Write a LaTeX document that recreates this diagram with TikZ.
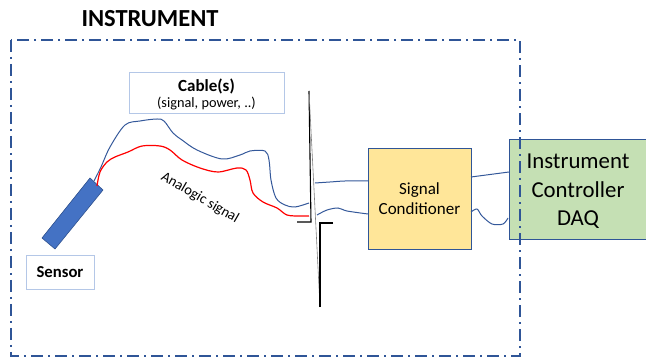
\documentclass[tikz,border=0pt]{standalone}
\usepackage{fontspec}
\setmainfont{Carlito}
\definecolor{frameblue}{HTML}{2F5597}
\definecolor{wireblue}{HTML}{34589A}
\definecolor{sensorfill}{HTML}{4472C4}
\definecolor{sensorline}{HTML}{2F528F}
\definecolor{scfill}{HTML}{FFE699}
\definecolor{ctrlfill}{HTML}{C5E0B4}
\definecolor{lightbox}{HTML}{B4C7E7}
\begin{document}
\begin{tikzpicture}[x=1pt,y=-1pt,
  labelbox/.style={draw=lightbox,line width=0.8pt,fill=white,inner sep=0pt,align=center},
  scbox/.style={draw=frameblue,line width=0.9pt,fill=scfill,inner sep=0pt,align=center,
     minimum width=103pt,minimum height=101pt,font=\fontsize{17}{19.5}\selectfont},
  ctrlbox/.style={draw=frameblue,line width=0.9pt,fill=ctrlfill,inner sep=0pt,align=center,
     minimum width=138pt,minimum height=100pt},
  frame/.style={draw=frameblue,line width=1.8pt,dash pattern=on 12pt off 5pt on 2pt off 5pt},
  wire/.style={draw=wireblue,line width=1pt},
  redwire/.style={draw=red,line width=1.2pt},
  breakline/.style={draw=black,line width=1.1pt},
]
\useasboundingbox (0,0) rectangle (646,358);
\clip (0,0) rectangle (646,358);

% title
\node[font=\bfseries\fontsize{24.5}{27}\selectfont] (title) at (150,19) {INSTRUMENT};

% controller box (under frame)
\node[ctrlbox] (ctrl) at (578,189) {};
\node[font=\fontsize{22.8}{28.5}\selectfont,align=center] (ctrltext) at (578,191.5) {Instrument\\Controller\\DAQ};

% frame
\draw[frame] (11,40) rectangle (520,356);

% cable label box
\node[labelbox,minimum width=155pt,minimum height=41pt] (cablebox) at (206.5,92.5) {};
\node[font=\bfseries\fontsize{17}{19}\selectfont] (cabletitle) at (206.5,86) {Cable(s)};
\node[font=\fontsize{14.3}{16}\selectfont] (cablesub) at (206.5,103.5) {(signal, power, ..)};

% sensor label box
\node[labelbox,minimum width=68pt,minimum height=34pt,font=\bfseries\fontsize{16.7}{18}\selectfont] (sensorbox) at (60,272) {Sensor};

% sensor body
\filldraw[fill=sensorfill,draw=sensorline,line width=0.6pt] (90,178) -- (103,190) -- (55,249) -- (42,238) -- cycle;

% signal conditioner
\node[scbox] (sc) at (419.5,198.5) {Signal\\Conditioner};

% break symbol
\coordinate (brkA) at (309,91);
\coordinate (brkB) at (311,222);
\coordinate (brkC) at (320,223);
\coordinate (brkD) at (320,307);
\draw[breakline] (brkA) -- (brkB) -- (297,222);
\draw[draw=gray,line width=0.6pt] (brkA) -- (brkD);
\draw[breakline] (333,223) -- (brkC) -- (brkD);

% blue cable from sensor
\draw[wire] plot[smooth,tension=0.55] coordinates {(94,181) (101,167) (110,147) (125,125) (140,121) (157,119) (164,121) (173,133) (182,140) (197,150) (222,159) (240,155) (250,151) (265,151) (269,160) (271,180) (276,198) (285,205) (295,207) (309,203)};
% red cable from sensor
\draw[redwire] plot[smooth,tension=0.55] coordinates {(97,186) (100,172) (107,162) (115,157) (128,152) (142,146) (160,146) (170,150) (182,160) (200,168) (218,172) (237,168) (246,170) (250,180) (253,193) (263,202) (277,208) (287,215) (300,216) (309,216)};

\node[font=\fontsize{14.5}{16}\selectfont,rotate=-30] (analog) at (200,198) {Analogic signal};

% wires break -> conditioner
\draw[wire] plot[smooth,tension=0.5] coordinates {(315,183) (330,182) (345,181) (368,181)};
\draw[wire] plot[smooth,tension=0.5] coordinates {(317,215) (327,210) (338,208) (347,211) (368,214)};

% wires conditioner -> controller
\draw[wire] (471,177) -- (509,172);
\draw[wire] plot[smooth,tension=0.5] coordinates {(471,212) (477,209) (482,216) (492,224) (503,224) (508,218)};
\end{tikzpicture}
\end{document}
